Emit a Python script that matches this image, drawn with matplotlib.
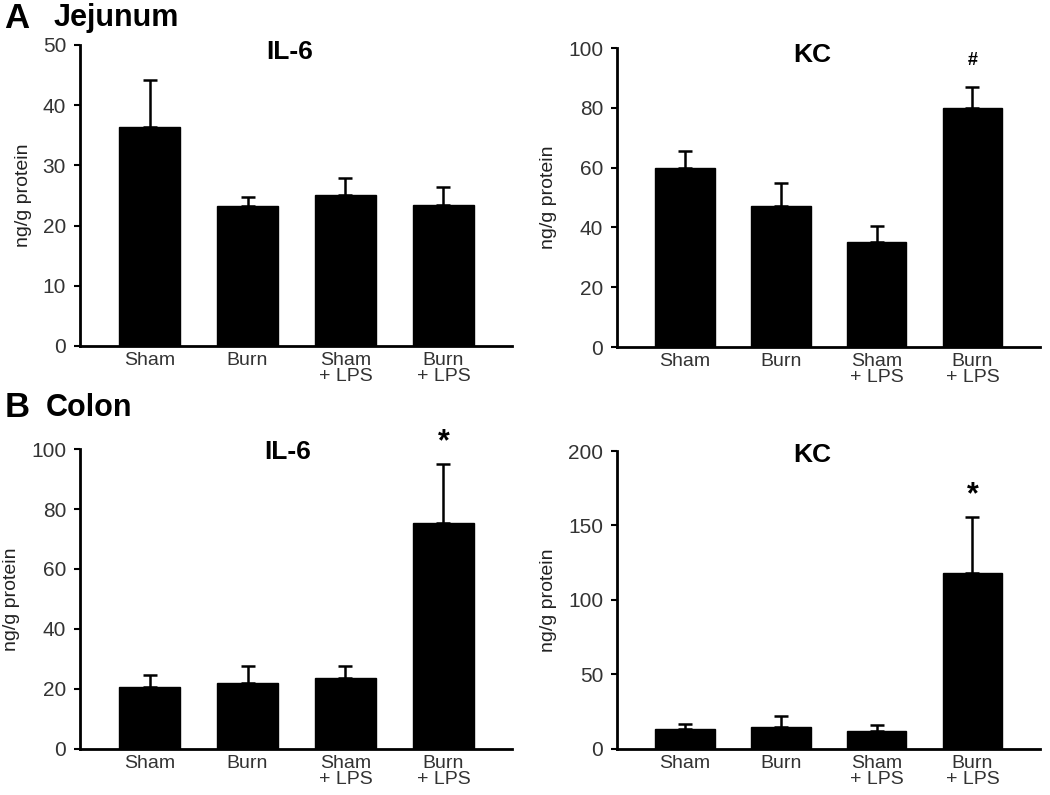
import matplotlib
matplotlib.use("Agg")
import matplotlib.pyplot as plt
import numpy as np

plt.rcParams['font.family'] = ['Liberation Sans', 'DejaVu Sans']

groups = ['Sham', 'Burn', 'Sham\n+ LPS', 'Burn\n+ LPS']

# jejunum
jej_il6 = [36.3, 23.2, 25.1, 23.5]
jej_il6_err = [7.9, 1.5, 2.8, 2.9]
jej_kc = [60.0, 47.2, 35.2, 80.0]
jej_kc_err = [5.5, 7.8, 5.3, 7.0]

# colon
col_il6 = [20.8, 22.0, 23.8, 75.5]
col_il6_err = [3.7, 5.8, 3.7, 19.5]
col_kc = [13.5, 14.5, 12.2, 118.0]
col_kc_err = [3.5, 7.5, 3.8, 37.5]

panels = [
    # values, errors, title, ymax, ystep, mark
    (jej_il6, jej_il6_err, 'IL-6', 50, 10, None),
    (jej_kc, jej_kc_err, 'KC', 100, 20, '#'),
    (col_il6, col_il6_err, 'IL-6', 100, 20, '*'),
    (col_kc, col_kc_err, 'KC', 200, 50, '*'),
]
boxes = [
    [0.0762, 0.5648, 0.4114, 0.3786],
    [0.5876, 0.5635, 0.4024, 0.3761],
    [0.0762, 0.0579, 0.4114, 0.3773],
    [0.5876, 0.0579, 0.4024, 0.3748],
]
title_y = [0.977, 0.977, 0.99, 0.987]
title_x = [0.486, 0.463, 0.48, 0.463]

fig = plt.figure(figsize=(10.5, 7.95), dpi=100)
x = np.arange(len(groups))

for i, (vals, errs, title, ymax, step, mark) in enumerate(panels):
    ax = fig.add_axes(boxes[i])
    ax.bar(x, vals, width=0.62, color='black', edgecolor='black', zorder=2)
    ax.errorbar(x, vals, yerr=[np.zeros(len(vals)), errs], fmt='none',
                ecolor='black', elinewidth=1.8, capsize=5, capthick=1.8, zorder=1)
    ax.set_xlim(-0.71, 3.7)
    ax.set_ylim(0, ymax)
    ax.set_yticks(np.arange(0, ymax + 1, step))
    ax.set_xticks(x)
    ax.set_xticklabels(groups, fontsize=14, color='#333333', linespacing=0.95)
    ax.tick_params(axis='x', length=0, pad=4)
    ax.tick_params(axis='y', length=4, width=1.5, direction='out', labelsize=15,
                   labelcolor='#333333', pad=6)
    for s in ['top', 'right']:
        ax.spines[s].set_visible(False)
    for s in ['left', 'bottom']:
        ax.spines[s].set_linewidth(2)
    ax.set_ylabel('ng/g protein', fontsize=14, color='#222222', labelpad=8)
    ax.text(title_x[i], title_y[i], title, transform=ax.transAxes, ha='center',
            va='center', fontsize=19, fontweight='bold')
    if mark is not None:
        top = vals[3] + errs[3]
        ax.annotate(mark, (x[3], top), xytext=(0, 22 if mark == '*' else 26),
                    textcoords='offset pixels', ha='center', va='center',
                    fontsize=22 if mark == '*' else 13, fontweight='bold')

fig.text(0.004, 0.977, 'A', fontsize=25, fontweight='bold', va='center')
fig.text(0.051, 0.977, 'Jejunum', fontsize=22, fontweight='bold', va='center')
fig.text(0.004, 0.487, 'B', fontsize=25, fontweight='bold', va='center')
fig.text(0.044, 0.487, 'Colon', fontsize=22, fontweight='bold', va='center')

fig.savefig('out.png', dpi=100)
